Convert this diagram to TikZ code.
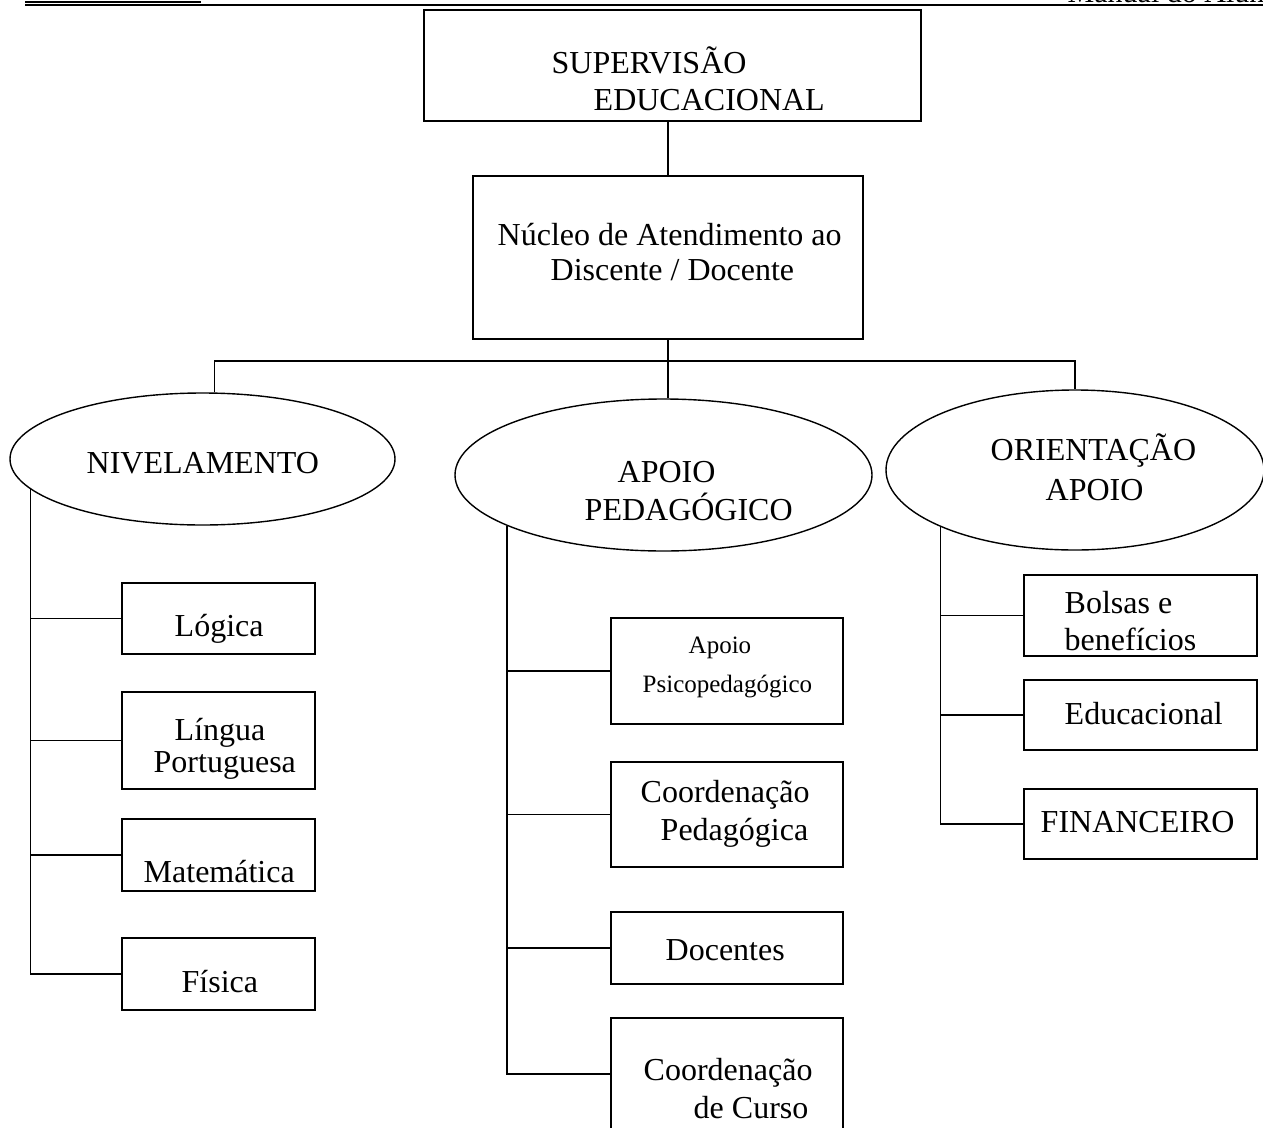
\documentclass[tikz,border=0pt]{standalone}
\usepackage{fontspec}
\setmainfont{Liberation Serif}
\usetikzlibrary{shapes.geometric}
\tikzset{
  box/.style={draw, rectangle, line width=1.6pt, inner sep=0pt},
  oval/.style={draw, ellipse, line width=1.4pt, inner sep=0pt},
  txt/.style={anchor=base west, inner sep=0pt},
}

\begin{document}
\begin{tikzpicture}[x=1pt, y=-1pt, line width=1.4pt, font=\fontsize{32}{34}\selectfont]
    \useasboundingbox (0,0) rectangle (1263,1127);
    \draw[line width=2.4pt] (25,5) -- (1263,5); %CABECALHO
    \draw[line width=2pt] (25,2) -- (201,2);
    \node[txt, font=\fontsize{30}{32}\selectfont] (hdr) at (1067,2) {Manual do Aluno};
    \foreach \n/\a/\b/\c/\d in {sup/424/10/921/121, nuc/473/176/863/339,
        log/122/583/315/654, lin/122/692/315/789, mat/122/819/315/891, fis/122/938/315/1010,
        psi/611/618/843/724, cpe/611/762/843/867, doc/611/912/843/984, ccu/611/1018/843/1130,
        bol/1024/575/1257/656, edu/1024/680/1257/750, fin/1024/789/1257/859}
        \node[box, minimum width={(\c-\a)*1pt}, minimum height={(\d-\b)*1pt}] (\n) at ({(\a+\c)/2},{(\b+\d)/2}) {};
    \node[oval, minimum width=385pt, minimum height=132pt] (niv) at (202.5,459) {};
    \node[oval, minimum width=417pt, minimum height=152pt] (apo) at (663.5,475) {};
    \node[oval, minimum width=378pt, minimum height=160pt] (ori) at (1075,470) {};
    \foreach \n/\x/\y/\t in {sup1/551/73/SUPERVISÃO, sup2/593/110/EDUCACIONAL,
        nuc1/497/245/Núcleo de Atendimento ao, nuc2/550/280/{Discente / Docente},
        niv1/86/473/NIVELAMENTO, apo1/617/482/APOIO, apo2/584/520/PEDAGÓGICO,
        ori1/990/460/ORIENTAÇÃO, ori2/1045/500/APOIO,
        log1/174/636/Lógica, lin1/174/740/Língua, lin2/153/772/Portuguesa,
        mat1/143/882/Matemática, fis1/181/992/Física,
        cpe1/640/802/Coordenação, cpe2/660/840/Pedagógica, doc1/665/960/Docentes,
        ccu1/643/1080/Coordenação, ccu2/693/1118/de Curso,
        bol1/1064/613/Bolsas e, bol2/1064/650/benefícios, edu1/1064/724/Educacional,
        fin1/1040/832/FINANCEIRO}
        \node[txt] (\n) at (\x,\y) {\t};
    \node[txt, font=\fontsize{25}{30}\selectfont] (psi1) at (688,653) {Apoio};
    \node[txt, font=\fontsize{25}{30}\selectfont] (psi2) at (642,692) {Psicopedagógico};
    % LIGACOES
    \draw (sup.south -| nuc.north) -- (nuc.north);
    \draw (nuc.south) -- ++(0,21) coordinate (bar);
    \draw (niv.80) |- (bar) -| (ori.north);
    \draw (bar) -- (bar |- apo.north);
    \draw (niv.190) |- (fis.west);
    \foreach \b in {log,lin,mat} \draw (\b.west) -- (\b.west -| niv.190);
    \draw (apo.198) |- (ccu.west);
    \foreach \b in {psi,cpe,doc} \draw (\b.west) -- (\b.west -| apo.198);
    \draw (ori.203) |- (fin.west);
    \foreach \b in {bol,edu} \draw (\b.west) -- (\b.west -| ori.203);
\end{tikzpicture}
\end{document}
